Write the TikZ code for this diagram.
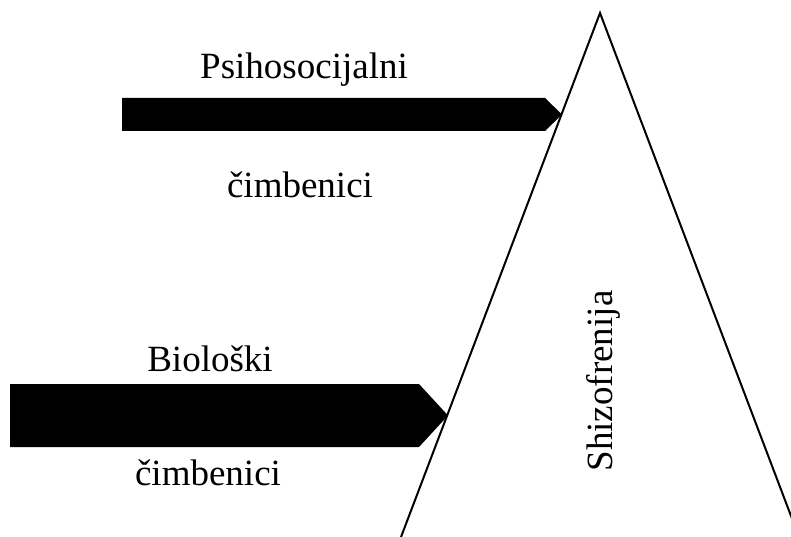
\documentclass[tikz,border=0pt]{standalone}
\usepackage{fontspec}
\setmainfont{Liberation Serif}

\begin{document}
\begin{tikzpicture}[x=1pt,y=-1pt,txt/.style={anchor=base,inner sep=0pt,font=\fontsize{37}{44}\selectfont}]
    \useasboundingbox (0,0) rectangle (791,537);
    \clip (0,0) rectangle (791,537);
    \coordinate (apex) at (600,13);
    \coordinate (bl) at (401,537);
    \coordinate (br) at (799,537);
    \draw[line width=2pt] (bl) -- (apex) -- (br);

    \coordinate (t1) at (122,98);
    \coordinate (t2) at (545,98);
    \coordinate (ttip) at (562,114.5);
    \coordinate (t3) at (545,131);
    \coordinate (t4) at (122,131);
    \fill (t1) -- (t2) -- (ttip) -- (t3) -- (t4) -- cycle;

    \coordinate (b1) at (10,384);
    \coordinate (b2) at (419,384);
    \coordinate (btip) at (448,415.5);
    \coordinate (b3) at (419,447);
    \coordinate (b4) at (10,447);
    \fill (b1) -- (b2) -- (btip) -- (b3) -- (b4) -- cycle;

    \node[txt] (psi) at (304,79) {Psihosocijalni};
    \node[txt] (cim1) at (300,197) {čimbenici};
    \node[txt] (bio) at (210,371) {Biološki};
    \node[txt] (cim2) at (208,485) {čimbenici};
    \node[txt,rotate=90] (shiz) at (612,381) {Shizofrenija};
\end{tikzpicture}
\end{document}
